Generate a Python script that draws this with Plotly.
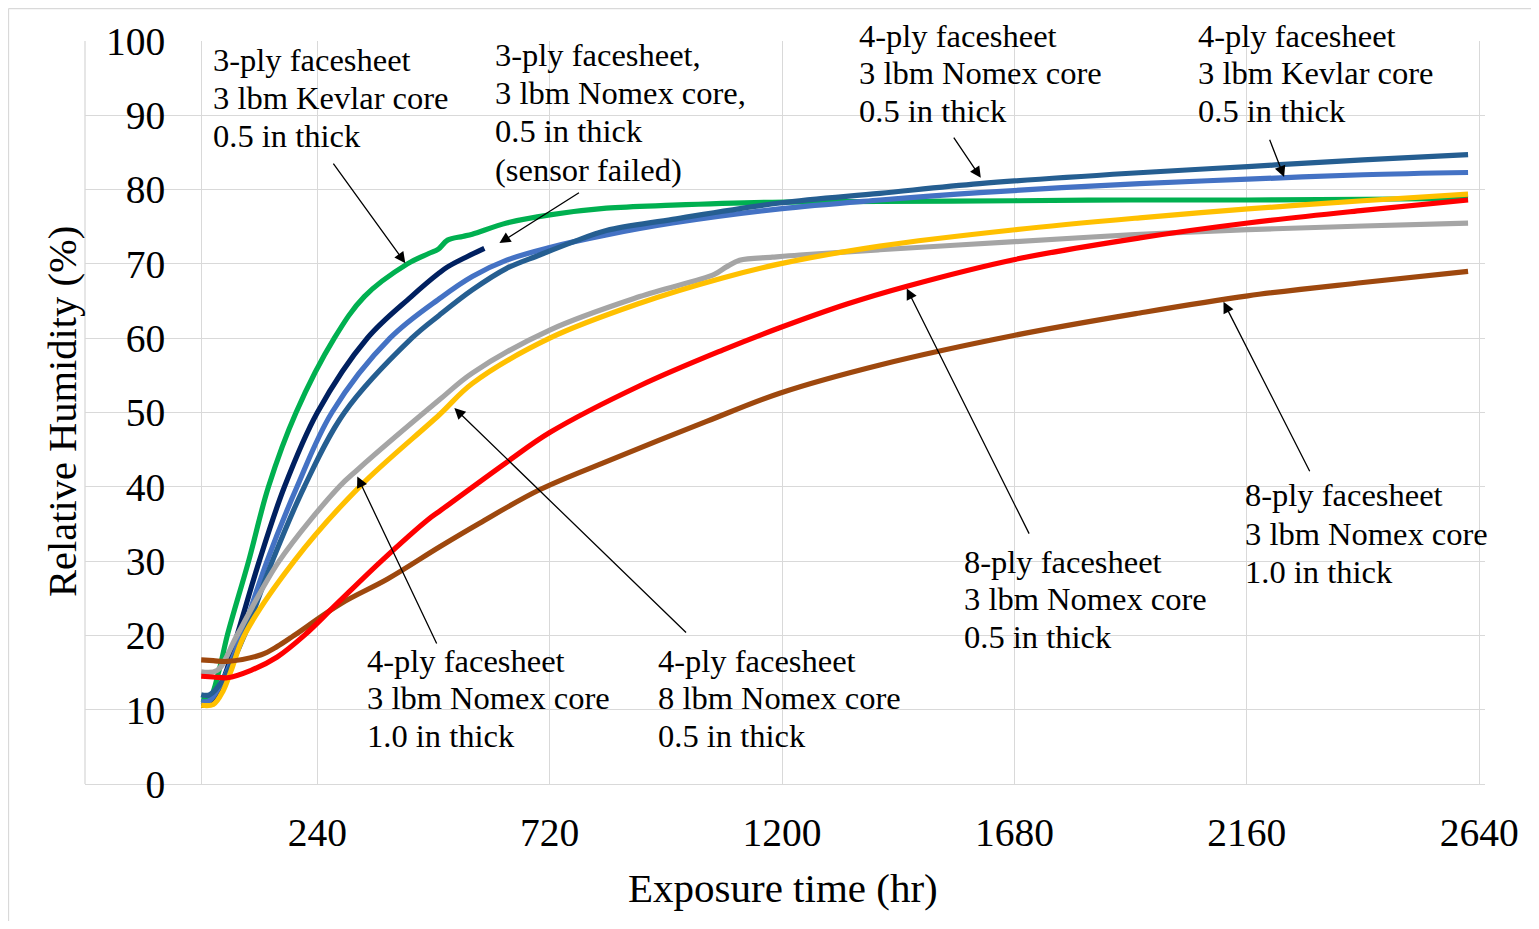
import plotly.graph_objects as go

# ---------------- data ----------------
t_green = [0, 17, 37, 54, 98, 139, 196, 275, 337, 426, 470, 490, 509, 540, 560, 631, 720, 837, 974, 1180, 1400, 1680, 1919, 2162, 2400, 2617]
rh_green = [11.4, 11.5, 15.3, 20, 30, 40, 50, 60, 65.6, 70.0, 71.4, 72.0, 73.2, 73.7, 74.0, 75.5, 76.6, 77.5, 77.9, 78.3, 78.4, 78.5, 78.6, 78.6, 78.7, 78.8]

t_navy = [0, 17, 45, 74, 120, 172, 240, 343, 434, 492, 509, 550, 585]
rh_navy = [10.6, 10.8, 14, 20, 30, 40, 50, 60, 65.6, 68.8, 69.6, 71.0, 72.1]

t_kev4 = [0, 17, 45, 83, 136, 198, 270, 390, 496, 560, 631, 720, 837, 974, 1195, 1402, 1608, 1939, 2162, 2400, 2617]
rh_kev4 = [11.1, 11.2, 14, 20, 30, 40, 50, 60, 65.5, 68.3, 70.5, 72.2, 73.9, 75.5, 77.4, 78.6, 79.6, 80.8, 81.4, 82.0, 82.3]

t_nom4 = [0, 17, 45, 89, 147, 213, 296, 435, 492, 560, 631, 699, 770, 837, 974, 1195, 1402, 1608, 1919, 2162, 2400, 2617]
rh_nom4 = [12.0, 12.0, 14, 20, 30, 40, 50, 60, 63.1, 66.5, 69.4, 71.2, 73.0, 74.5, 76.0, 78.2, 79.5, 80.8, 82.2, 83.1, 84.0, 84.7]

t_gray = [0, 33, 74, 161, 285, 323, 492, 560, 720, 906, 1060, 1085, 1112, 1180, 1236, 1402, 1681, 1919, 2162, 2400, 2617]
rh_gray = [15.1, 15.3, 20, 30, 40, 42.3, 51.7, 55.3, 61.1, 65.6, 68.6, 69.6, 70.5, 70.9, 71.2, 71.9, 73.0, 73.9, 74.6, 75.1, 75.5]

t_yel = [0, 25, 45, 62, 89, 192, 327, 492, 560, 720, 906, 1077, 1195, 1402, 1681, 1939, 2162, 2400, 2617]
rh_yel = [10.6, 10.7, 12.5, 15.3, 20, 30, 40, 49.7, 53.9, 60.0, 64.7, 68.1, 70.0, 72.4, 74.6, 76.2, 77.4, 78.5, 79.4]

t_red = [0, 25, 54, 103, 157, 213, 281, 372, 467, 492, 631, 720, 906, 1077, 1195, 1334, 1458, 1681, 1939, 2162, 2400, 2617]
rh_red = [14.5, 14.4, 14.3, 15.3, 17.1, 20, 24.3, 30, 35.5, 36.7, 43.3, 47.3, 53.6, 58.4, 61.4, 64.6, 67.0, 70.6, 73.5, 75.5, 77.2, 78.6]

t_brown = [0, 25, 54, 124, 157, 192, 289, 385, 492, 575, 699, 837, 1044, 1195, 1402, 1681, 1939, 2162, 2400, 2617]
rh_brown = [16.7, 16.6, 16.5, 17.4, 18.5, 20, 24.3, 27.6, 31.9, 35.1, 39.6, 43.4, 48.8, 52.6, 56.4, 60.4, 63.4, 65.7, 67.5, 69.0]

x_tick_vals = [240, 720, 1200, 1680, 2160, 2640]
x_tick_text = ["240", "720", "1200", "1680", "2160", "2640"]

FONT = "Liberation Serif"
GRID = "#D9D9D9"

series = [
    (t_green, rh_green, "#00B050"),
    (t_navy, rh_navy, "#002060"),
    (t_kev4, rh_kev4, "#4472C4"),
    (t_nom4, rh_nom4, "#255E91"),
    (t_gray, rh_gray, "#A5A5A5"),
    (t_yel, rh_yel, "#FFC000"),
    (t_brown, rh_brown, "#9E480E"),
    (t_red, rh_red, "#FF0000"),
]

fig = go.Figure()
for tx, ry, col in series:
    fig.add_trace(go.Scatter(x=tx, y=ry, mode="lines",
                             line=dict(color=col, width=5.2, shape="spline", smoothing=1.0),
                             showlegend=False, hoverinfo="skip"))

# layout geometry (figure sits at 8px body margin)
W, H = 1523, 913
ML, MR, MT, MB = 77, 46, 33, 137
PW, PH = W - ML - MR, H - MT - MB
XMIN, XMAX = -240, 2652


def px(xp):  # page x -> paper
    return (xp - 8 - ML) / PW


def py(yp):  # page y -> paper
    return 1 - (yp - 8 - MT) / PH


annotations = []
labels = [
    (211, [60, 98, 136], ["3-ply facesheet", "3 lbm Kevlar core", "0.5 in thick"]),
    (493, [55, 93, 131, 170], ["3-ply facesheet,", "3 lbm Nomex core,", "0.5 in thick", "(sensor failed)"]),
    (857, [36, 73, 111], ["4-ply facesheet", "3 lbm Nomex core", "0.5 in thick"]),
    (1196, [36, 73, 111], ["4-ply facesheet", "3 lbm Kevlar core", "0.5 in thick"]),
    (1243, [495, 534, 572], ["8-ply facesheet", "3 lbm Nomex core", "1.0 in thick"]),
    (962, [562, 599, 637], ["8-ply facesheet", "3 lbm Nomex core", "0.5 in thick"]),
    (365, [661, 698, 736], ["4-ply facesheet", "3 lbm Nomex core", "1.0 in thick"]),
    (656, [661, 698, 736], ["4-ply facesheet", "8 lbm Nomex core", "0.5 in thick"]),
]
for xl, ys, lines in labels:
    for yc, txt in zip(ys, lines):
        annotations.append(dict(text=txt, xref="paper", yref="paper", x=px(xl), y=py(yc),
                                xanchor="left", yanchor="middle", showarrow=False,
                                font=dict(family=FONT, size=32.5, color="black")))

# arrows: tip (x, y) and tail (ax, ay) in data units
arrows = [
    (421.7, 70.1, 270.8, 83.7),
    (616.1, 72.8, 783.5, 79.7),
    (1610.5, 81.6, 1552.6, 87.2),
    (2237.0, 81.7, 2206.0, 86.9),
    (2111.8, 64.9, 2291.5, 41.9),
    (1457.5, 66.7, 1711.8, 33.5),
    (322.5, 41.4, 487.9, 18.7),
    (523.0, 50.6, 1004.7, 20.2),
]
for x, y, ax, ay in arrows:
    annotations.append(dict(text="", x=x, y=y, xref="x", yref="y", ax=ax, ay=ay,
                            axref="x", ayref="y", showarrow=True, arrowhead=2,
                            arrowsize=1.7, arrowwidth=1.3, arrowcolor="black"))

annotations.append(dict(text="Exposure time (hr)", xref="paper", yref="paper",
                        x=px(783), y=py(888), xanchor="center", yanchor="middle",
                        showarrow=False, font=dict(family=FONT, size=41, color="black")))
annotations.append(dict(text="Relative Humidity (%)", xref="paper", yref="paper",
                        x=px(62), y=py(412), xanchor="center", yanchor="middle", textangle=-90,
                        showarrow=False, font=dict(family=FONT, size=40.5, color="black")))

shapes = [
    dict(type="line", xref="paper", yref="paper", x0=0, x1=0, y0=0, y1=1,
         line=dict(color=GRID, width=1.3), layer="below"),
    dict(type="line", xref="paper", yref="paper", x0=-(ML - 0.5) / PW, x1=-(ML - 0.5) / PW,
         y0=-MB / PH, y1=1 + (MT - 0.5) / PH, line=dict(color=GRID, width=1.3)),
    dict(type="line", xref="paper", yref="paper", x0=-(ML - 0.5) / PW, x1=1 + MR / PW,
         y0=1 + (MT - 0.5) / PH, y1=1 + (MT - 0.5) / PH, line=dict(color=GRID, width=1.3)),
]

fig.update_layout(
    width=W, height=H, autosize=False,
    margin=dict(l=ML, r=MR, t=MT, b=MB, pad=0),
    paper_bgcolor="white", plot_bgcolor="white",
    xaxis=dict(range=[XMIN, XMAX], tickmode="array", tickvals=x_tick_vals, ticktext=x_tick_text,
               showgrid=True, gridcolor=GRID, gridwidth=1.3,
               zeroline=True, zerolinecolor=GRID, zerolinewidth=1.3,
               showline=True, linecolor=GRID, linewidth=1.3, ticks="",
               ticklabelstandoff=13,
               tickfont=dict(family=FONT, size=39.5, color="black")),
    yaxis=dict(range=[0, 100], dtick=10, tick0=0, anchor="free",
               position=(0 - XMIN) / (XMAX - XMIN),
               showgrid=True, gridcolor=GRID, gridwidth=1.3, zeroline=False,
               showline=False, ticks="", ticklabelstandoff=36,
               tickfont=dict(family=FONT, size=39.5, color="black")),
    annotations=annotations,
    shapes=shapes,
)

fig.write_html("out.html")
